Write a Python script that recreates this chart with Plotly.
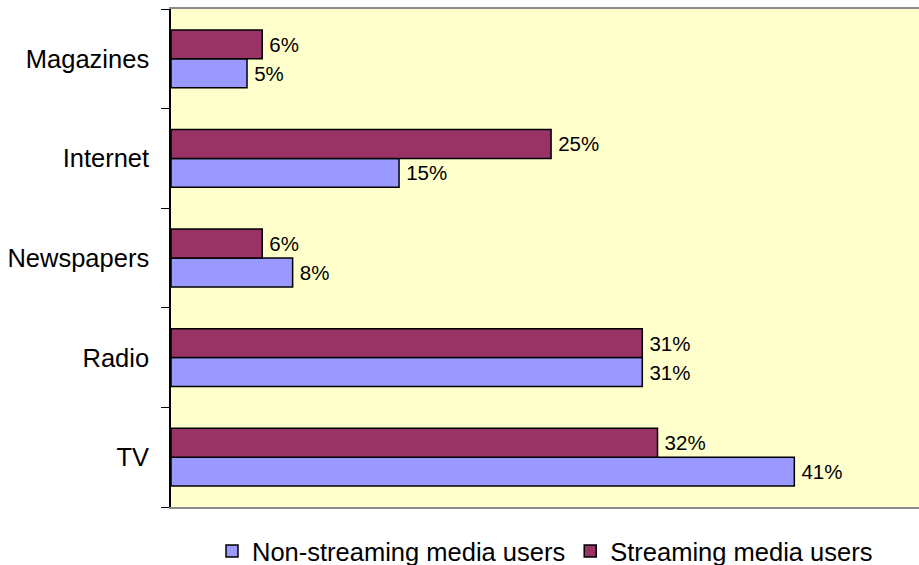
import plotly.graph_objects as go

# Media categories, listed bottom to top on the y axis
categories = ["TV", "Radio", "Newspapers", "Internet", "Magazines"]

# Share of users per media type (%)
non_streaming = [41, 31, 8, 15, 5]
streaming = [32, 31, 6, 25, 6]

series_names = ["Non-streaming media users", "Streaming media users"]
series_colors = ["#9999FF", "#993366"]

FONT = "Liberation Sans, Arial, sans-serif"

fig = go.Figure()
for name, values, color in zip(series_names, [non_streaming, streaming], series_colors):
    fig.add_trace(go.Bar(
        y=categories,
        x=values,
        name=name,
        orientation="h",
        marker=dict(color=color, line=dict(color="#000000", width=1.5)),
        # thin space keeps the value label a little clear of the bar end
        text=[f"\u2009{v}%" for v in values],
        textposition="outside",
        textfont=dict(family=FONT, size=20.5, color="#000000"),
        cliponaxis=False,
    ))

fig.update_layout(
    width=919,
    height=565,
    margin=dict(l=171, r=0, t=9, b=58, autoexpand=False),
    paper_bgcolor="#FFFFFF",
    plot_bgcolor="#FFFFCC",
    barmode="group",
    bargap=0.42,
    bargroupgap=0,
    font=dict(family=FONT, color="#000000"),
    showlegend=True,
    legend=dict(
        orientation="h",
        x=0.5,
        xanchor="center",
        y=-0.042,
        yanchor="top",
        font=dict(family=FONT, size=25.5, color="#000000"),
        itemclick=False,
        tracegroupgap=0,
    ),
    xaxis=dict(
        range=[0, 49.2],
        showgrid=False,
        zeroline=False,
        showticklabels=False,
        ticks="",
        showline=True,
        mirror=True,
        linecolor="#8C8C8C",
        linewidth=2,
    ),
    yaxis=dict(
        type="category",
        categoryorder="array",
        categoryarray=categories,
        showgrid=False,
        zeroline=False,
        showline=True,
        linecolor="#000000",
        linewidth=1.5,
        ticks="outside",
        ticklen=8,
        tickcolor="#000000",
        tickwidth=1,
        tickson="boundaries",
        ticklabelstandoff=15,
        tickfont=dict(family=FONT, size=25.5, color="#000000"),
    ),
)

fig.write_html("out.html")
